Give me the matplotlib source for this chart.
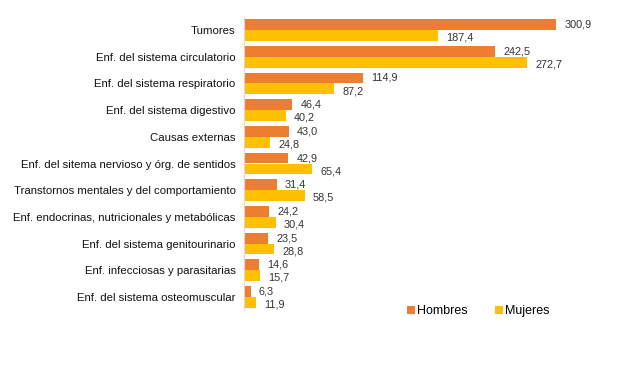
import numpy as np
import matplotlib
matplotlib.use('Agg')
import matplotlib.pyplot as plt

plt.rcParams['font.family'] = ['Liberation Sans', 'DejaVu Sans']
plt.rcParams['font.stretch'] = 'normal'

categorias = ['Tumores', 'Enf. del sistema circulatorio', 'Enf. del sistema respiratorio',
              'Enf. del sistema digestivo', 'Causas externas',
              'Enf. del sitema nervioso y órg. de sentidos',
              'Transtornos mentales y del comportamiento',
              'Enf. endocrinas, nutricionales y metabólicas',
              'Enf. del sistema genitourinario', 'Enf. infecciosas y parasitarias',
              'Enf. del sistema osteomuscular']
hombres = [300.9, 242.5, 114.9, 46.4, 43.0, 42.9, 31.4, 24.2, 23.5, 14.6, 6.3]
mujeres = [187.4, 272.7, 87.2, 40.2, 24.8, 65.4, 58.5, 30.4, 28.8, 15.7, 11.9]

c_h = '#ED7D31'
c_m = '#FFC000'

fig = plt.figure(figsize=(6.2, 3.68), dpi=100)
ax = fig.add_axes([244/620, 1-310/368, (600-244)/620, (310-17)/368])

y = np.arange(len(categorias))
h = 0.41
bh = ax.barh(y - h/2, hombres, height=h, color=c_h, label='Hombres')
bm = ax.barh(y + h/2, mujeres, height=h, color=c_m, label='Mujeres')

for yi, v in zip(y, hombres):
    ax.text(v + 8, yi - h/2, f'{v:.1f}'.replace('.', ','), va='center', ha='left',
            fontsize=7.8, color='#333333')
for yi, v in zip(y, mujeres):
    ax.text(v + 8, yi + h/2 + 0.08, f'{v:.1f}'.replace('.', ','), va='center', ha='left',
            fontsize=7.8, color='#333333')

ax.set_xlim(0, (600-244)/1.037)
ax.set_ylim(10.49, -0.49)
ax.set_yticks(y)
ax.set_yticklabels(categorias, fontsize=8.2, color='#111111')
ax.set_xticks([])
ax.tick_params(axis='y', length=0, pad=6)
for s in ['top', 'right', 'bottom']:
    ax.spines[s].set_visible(False)
ax.spines['left'].set_color('#D9D9D9')
ax.spines['left'].set_linewidth(0.8)

fig.legend(handles=[bh, bm], labels=['Hombres', 'Mujeres'], loc='center left',
           bbox_to_anchor=(396/620, 1-311/368), ncol=2, frameon=False, fontsize=9,
           handlelength=0.6, handleheight=0.6, handletextpad=0.2, columnspacing=2.2)

fig.savefig('out.png', dpi=100)
